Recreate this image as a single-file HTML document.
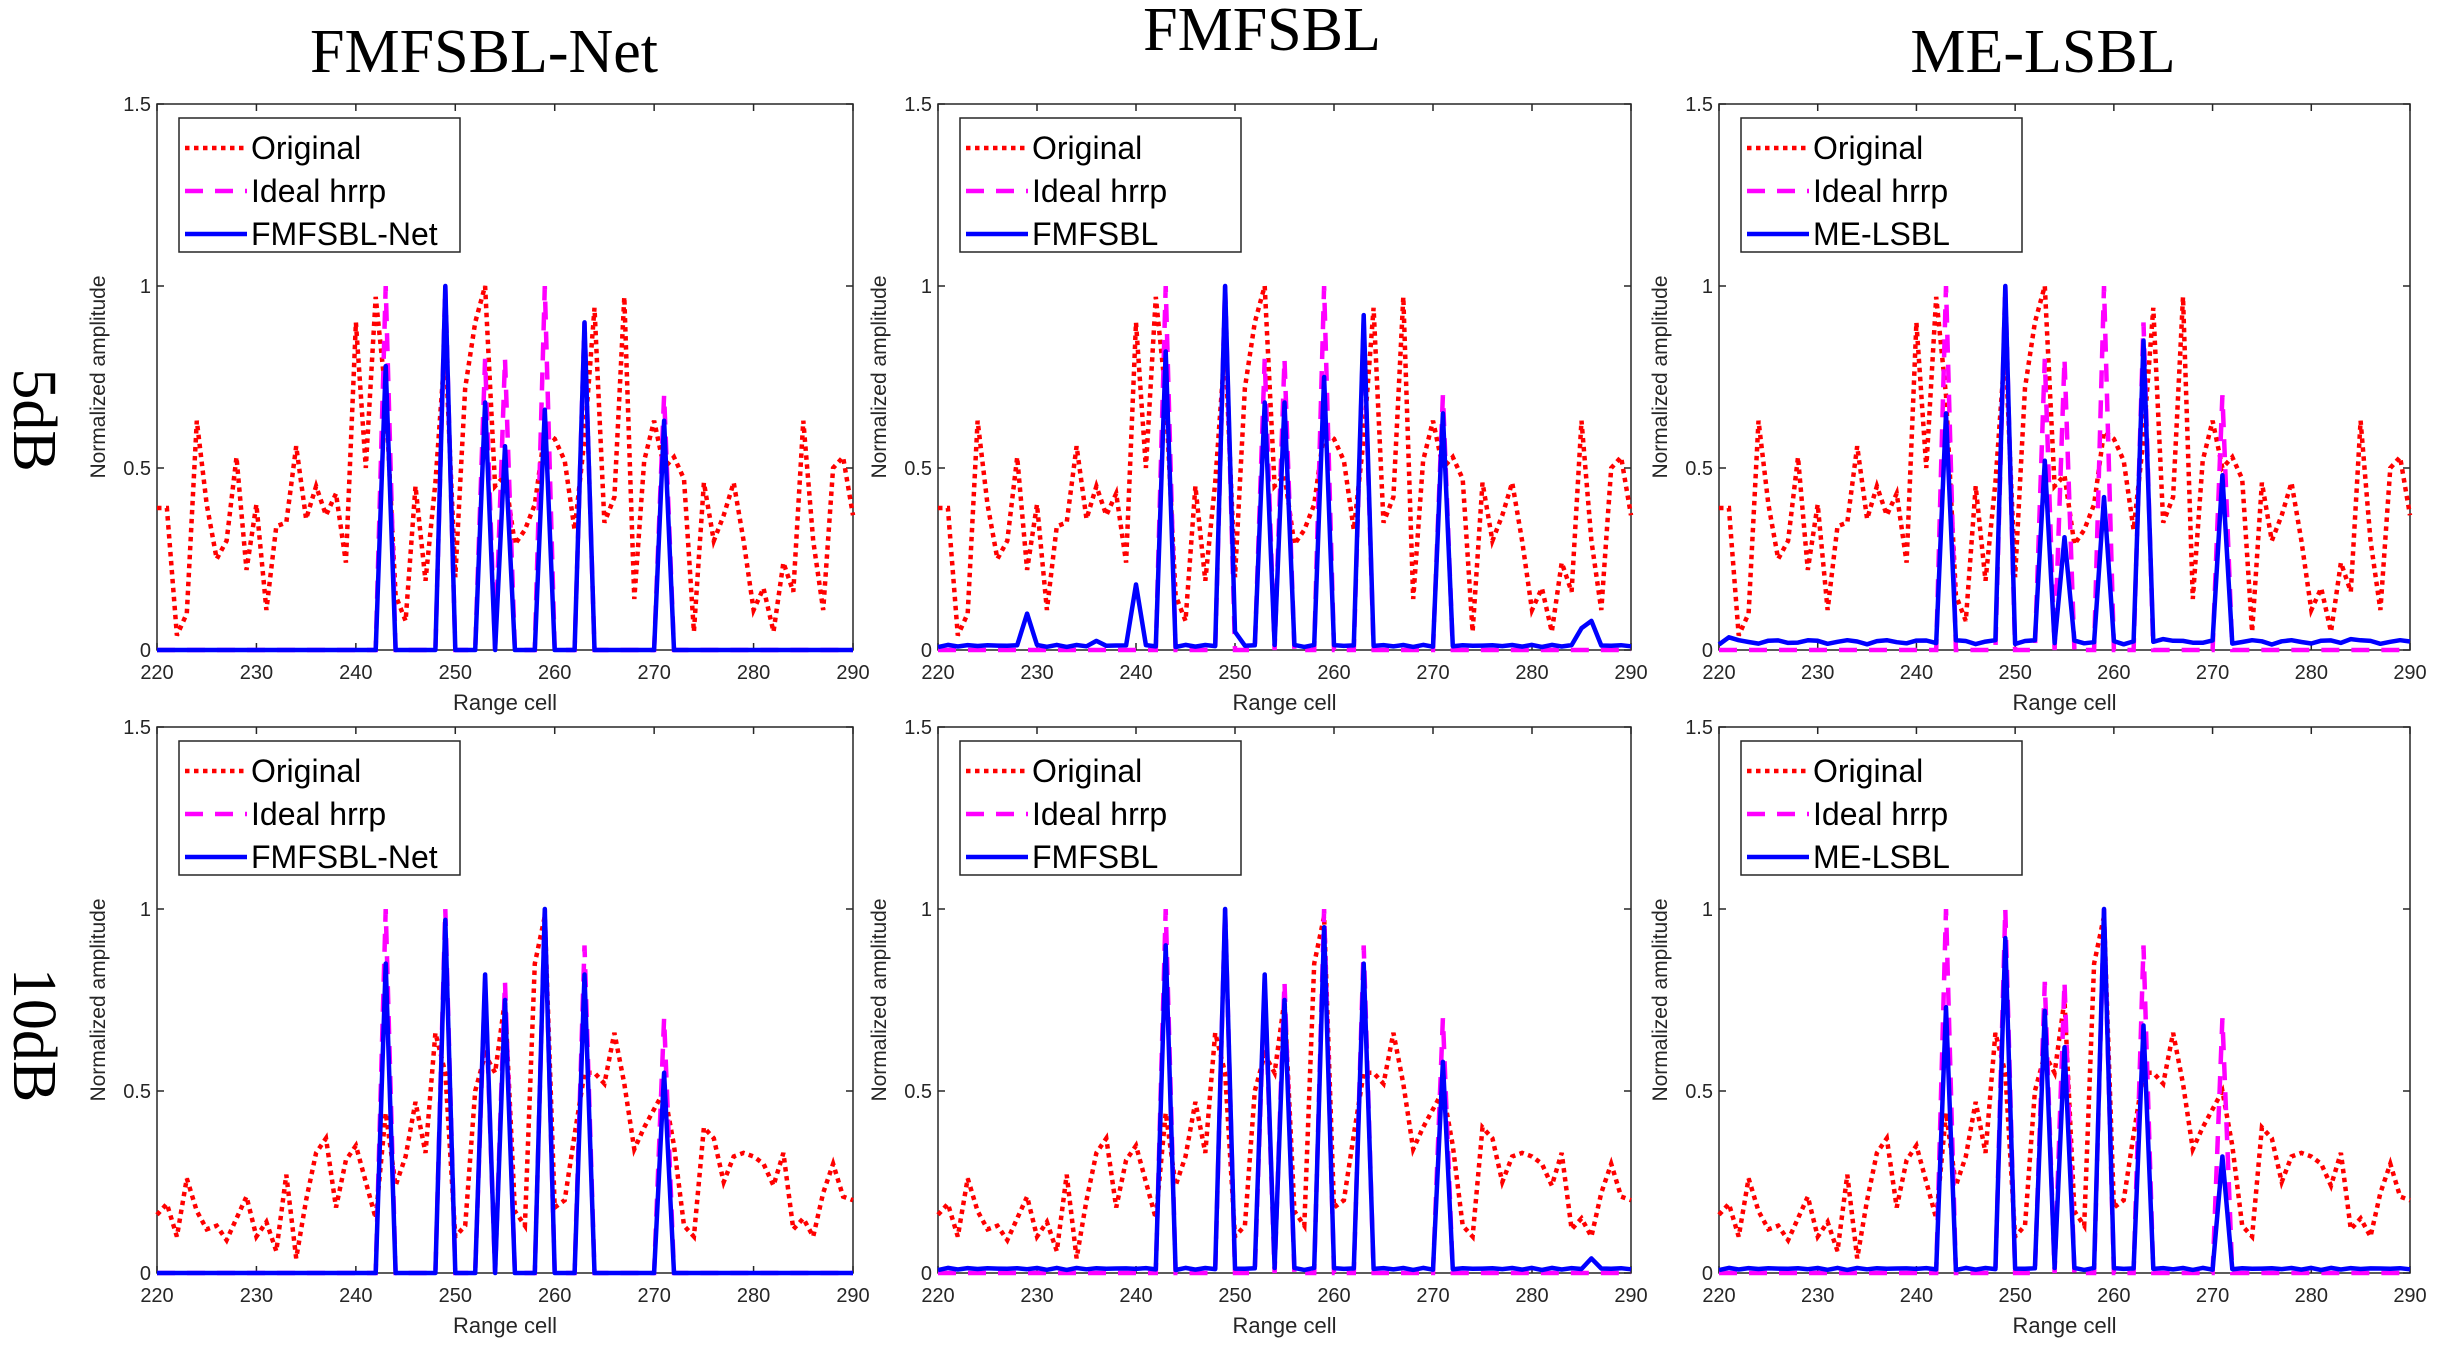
<!DOCTYPE html>
<html><head><meta charset="utf-8"><style>
html,body{margin:0;padding:0;background:#fff;}
svg{display:block;}
</style></head><body>
<svg id="s" width="2440" height="1353" xmlns="http://www.w3.org/2000/svg"></svg>
<script>
const NS="http://www.w3.org/2000/svg";
const S=document.getElementById('s');
function el(t,a,txt){const e=document.createElementNS(NS,t);for(const k in a)e.setAttribute(k,a[k]);if(txt!==undefined)e.textContent=txt;S.appendChild(e);return e;}
const orig1=[0.39,0.39,0.04,0.1,0.63,0.4,0.25,0.3,0.53,0.22,0.4,0.11,0.34,0.35,0.56,0.36,0.45,0.37,0.43,0.24,0.9,0.5,0.97,0.7,0.15,0.08,0.45,0.19,0.46,0.84,0.2,0.72,0.9,1.0,0.45,0.48,0.29,0.33,0.4,0.6,0.58,0.52,0.33,0.58,0.94,0.35,0.42,0.97,0.14,0.52,0.63,0.5,0.53,0.47,0.05,0.46,0.3,0.37,0.46,0.3,0.11,0.17,0.05,0.24,0.16,0.63,0.3,0.11,0.5,0.53,0.37];
const orig2=[0.16,0.19,0.1,0.26,0.17,0.12,0.13,0.09,0.15,0.21,0.1,0.14,0.06,0.27,0.04,0.2,0.33,0.37,0.18,0.31,0.35,0.25,0.15,0.44,0.24,0.32,0.47,0.33,0.66,0.55,0.1,0.13,0.5,0.6,0.55,0.75,0.17,0.13,0.85,0.98,0.18,0.2,0.38,0.55,0.55,0.52,0.66,0.52,0.34,0.4,0.45,0.5,0.35,0.13,0.1,0.4,0.37,0.25,0.32,0.33,0.32,0.3,0.24,0.33,0.12,0.15,0.1,0.22,0.3,0.21,0.2];
const pos=[243,249,253,255,259,263,271];
function mk(peaks,base,extra){const a=[];for(let i=0;i<=70;i++){let v=base?base(i):0;a.push(v);}pos.forEach((p,j)=>{a[p-220]=peaks[j];});if(extra)for(const k in extra)a[k-220]=extra[k];return a;}
const ideal=mk([1,1,0.8,0.8,1,0.9,0.7]);
const noiseA=i=>0.008+0.006*Math.abs(Math.sin(i*1.7));
const noiseB=i=>0.015+0.012*Math.abs(Math.sin(i*2.3));
const blue=[
 [mk([0.78,1,0.68,0.56,0.66,0.9,0.63]), mk([0.85,0.97,0.82,0.75,1,0.82,0.55])],
 [mk([0.82,1,0.68,0.68,0.75,0.92,0.65],noiseA,{229:0.1,240:0.18,250:0.05,236:0.025,285:0.06,286:0.08}), mk([0.9,1,0.82,0.75,0.95,0.85,0.58],noiseA,{286:0.04})],
 [mk([0.65,1,0.52,0.31,0.42,0.85,0.48],noiseB,{221:0.035,265:0.03,267:0.025,284:0.03}), mk([0.73,0.92,0.72,0.62,1,0.68,0.32],noiseA)]
];
const titles=["FMFSBL-Net","FMFSBL","ME-LSBL"];
const cols=[[157,853],[938,1631],[1719,2410]];
const rows=[[104,650],[727,1273]];
const titleY=[72,50,72];
const titleX=[484,1262,2043];
titles.forEach((t,i)=>el('text',{x:titleX[i],y:titleY[i],'font-family':'Liberation Serif, serif','font-size':62,'text-anchor':'middle'},t));
el('text',{x:0,y:0,'font-family':'Liberation Serif, serif','font-size':62,'text-anchor':'middle',transform:'translate(14,420) rotate(90)'},'5dB');
el('text',{x:0,y:0,'font-family':'Liberation Serif, serif','font-size':62,'text-anchor':'middle',transform:'translate(14,1035) rotate(90)'},'10dB');
const F='Liberation Sans, sans-serif';
for(let r=0;r<2;r++)for(let c=0;c<3;c++){
 const [x0,x1]=cols[c],[y0,y1]=rows[r];
 const X=v=>x0+(v-220)/70*(x1-x0), Y=v=>y1-v/1.5*(y1-y0);
 el('rect',{x:x0,y:y0,width:x1-x0,height:y1-y0,fill:'#fff',stroke:'#262626','stroke-width':1.5});
 for(let v=220;v<=290;v+=10){const xx=X(v);el('line',{x1:xx,y1:y1,x2:xx,y2:y1-7,stroke:'#262626','stroke-width':1.5});el('line',{x1:xx,y1:y0,x2:xx,y2:y0+7,stroke:'#262626','stroke-width':1.5});el('text',{x:xx,y:y1+29,'font-family':F,'font-size':20,'text-anchor':'middle',fill:'#262626'},v);}
 [0,0.5,1,1.5].forEach(v=>{const yy=Y(v);el('line',{x1:x0,y1:yy,x2:x0+7,y2:yy,stroke:'#262626','stroke-width':1.5});el('line',{x1:x1,y1:yy,x2:x1-7,y2:yy,stroke:'#262626','stroke-width':1.5});el('text',{x:x0-6,y:yy+7,'font-family':F,'font-size':20,'text-anchor':'end',fill:'#262626'},v);});
 el('text',{x:(x0+x1)/2,y:y1+60,'font-family':F,'font-size':22,'text-anchor':'middle',fill:'#262626'},'Range cell');
 el('text',{x:0,y:0,'font-family':F,'font-size':21,'text-anchor':'middle',fill:'#262626',transform:`translate(${x0-52},${(y0+y1)/2}) rotate(-90)`},'Normalized amplitude');
 const pts=a=>a.map((v,i)=>X(220+i).toFixed(1)+','+Y(v).toFixed(1)).join(' ');
 el('polyline',{points:pts(r?orig2:orig1),fill:'none',stroke:'#ff0000','stroke-width':4.5,'stroke-dasharray':'4.5 4.5'});
 el('polyline',{points:pts(ideal),fill:'none',stroke:'#ff00ff','stroke-width':4.5,'stroke-dasharray':'18 12'});
 el('polyline',{points:pts(blue[c][r]),fill:'none',stroke:'#0000ff','stroke-width':4.5,'stroke-linejoin':'round'});
 const lx=x0+22,ly=y0+14;
 el('rect',{x:lx,y:ly,width:281,height:134,fill:'#fff',stroke:'#262626','stroke-width':1.5});
 const items=[['Original','#ff0000','4.5 4.5'],['Ideal hrrp','#ff00ff','18 12'],[titles[c],'#0000ff','']];
 items.forEach((it,k)=>{const yy=ly+30+k*43;const a={x1:lx+6,y1:yy,x2:lx+68,y2:yy,stroke:it[1],'stroke-width':4.5};if(it[2])a['stroke-dasharray']=it[2];el('line',a);el('text',{x:lx+72,y:yy+11,'font-family':F,'font-size':32,fill:'#000'},it[0]);});
}
</script>
</body></html>
